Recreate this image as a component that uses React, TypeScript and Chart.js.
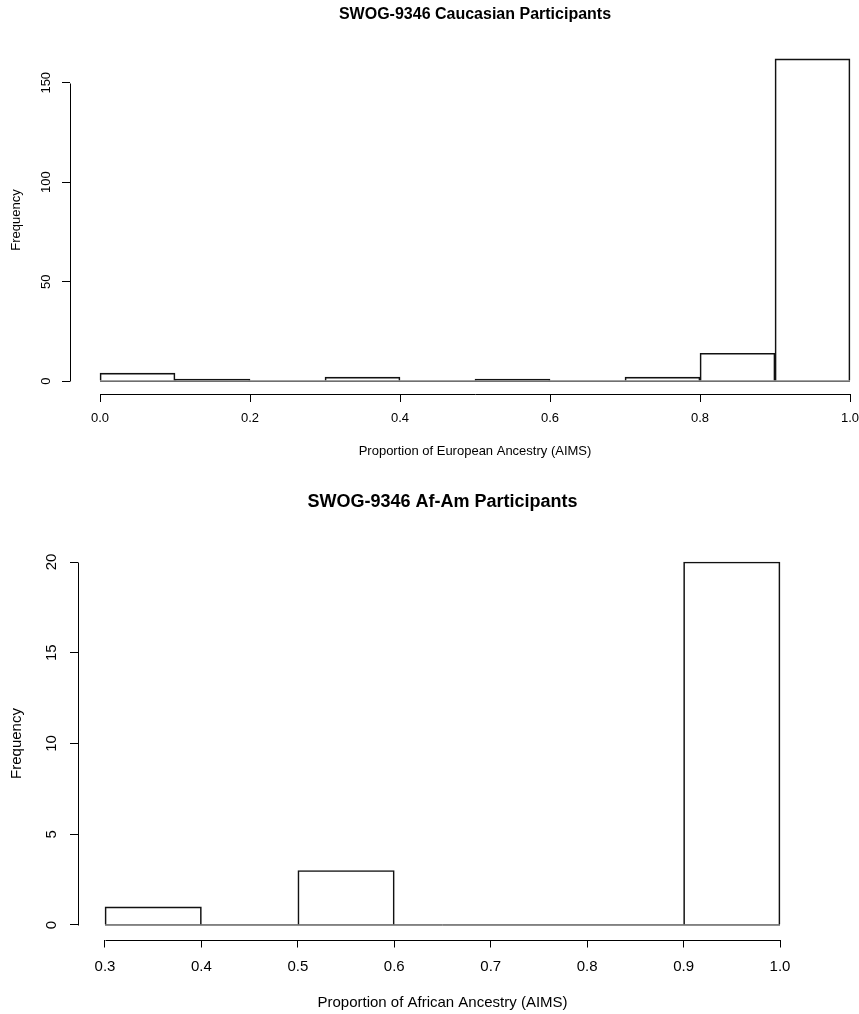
import React, { useEffect, useRef } from "react";
import { Chart, registerables } from "chart.js";

Chart.register(...registerables);

// ---------- data ----------
const yAxisLabel = "Frequency";

const topTitle = "SWOG-9346 Caucasian Participants";
const topXLabel = "Proportion of European Ancestry (AIMS)";
const topBinEdges = [0.0, 0.1, 0.2, 0.3, 0.4, 0.5, 0.6, 0.7, 0.8, 0.9, 1.0];
const topCounts = [4, 1, 0, 2, 0, 1, 0, 2, 14, 162];
const topXTicks = [0.0, 0.2, 0.4, 0.6, 0.8, 1.0];
const topXTickLabels = ["0.0", "0.2", "0.4", "0.6", "0.8", "1.0"];
const topYTicks = [0, 50, 100, 150];
const topYTickLabels = ["0", "50", "100", "150"];

const bottomTitle = "SWOG-9346 Af-Am Participants";
const bottomXLabel = "Proportion of African Ancestry (AIMS)";
const bottomBinEdges = [0.3, 0.4, 0.5, 0.6, 0.7, 0.8, 0.9, 1.0];
const bottomCounts = [1, 0, 3, 0, 0, 0, 20];
const bottomXTicks = [0.3, 0.4, 0.5, 0.6, 0.7, 0.8, 0.9, 1.0];
const bottomXTickLabels = ["0.3", "0.4", "0.5", "0.6", "0.7", "0.8", "0.9", "1.0"];
const bottomYTicks = [0, 5, 10, 15, 20];
const bottomYTickLabels = ["0", "5", "10", "15", "20"];

const FONT = "'Liberation Sans', Arial, Helvetica, sans-serif";
const INK = "#000000";

type Panel = {
  title: string;
  xLabel: string;
  edges: number[];
  counts: number[];
  xTicks: number[];
  xTickLabels: string[];
  yTicks: number[];
  yTickLabels: string[];
  // layout (not data)
  width: number;
  height: number;
  top: number;
  area: { left: number; top: number; right: number; bottom: number };
  xMin: number;
  xMax: number;
  yMin: number;
  yMax: number;
  titleCenter: number;
  titleY: number;
  titleSize: number;
  textSize: number;
  xTickLabelY: number;
  yTickLabelX: number;
  yTitleX: number;
  xTitleY: number;
  tickLen: number;
};

const panels: Panel[] = [
  {
    title: topTitle,
    xLabel: topXLabel,
    edges: topBinEdges,
    counts: topCounts,
    xTicks: topXTicks,
    xTickLabels: topXTickLabels,
    yTicks: topYTicks,
    yTickLabels: topYTickLabels,
    width: 859,
    height: 480,
    top: 0,
    area: { left: 70, top: 46, right: 859, bottom: 394 },
    xMin: -0.04,
    xMax: 1.012,
    yMin: -6.48,
    yMax: 168.48,
    titleCenter: 0.5,
    titleY: 15,
    titleSize: 16,
    textSize: 13,
    xTickLabelY: 418.5,
    yTickLabelX: 46,
    yTitleX: 16,
    xTitleY: 451,
    tickLen: 8,
  },
  {
    title: bottomTitle,
    xLabel: bottomXLabel,
    edges: bottomBinEdges,
    counts: bottomCounts,
    xTicks: bottomXTicks,
    xTickLabels: bottomXTickLabels,
    yTicks: bottomYTicks,
    yTickLabels: bottomYTickLabels,
    width: 859,
    height: 534,
    top: 480,
    area: { left: 78, top: 67.5, right: 807, bottom: 459.5 },
    xMin: 0.272,
    xMax: 1.028,
    yMin: -0.8,
    yMax: 20.8,
    titleCenter: 0.65,
    titleY: 22,
    titleSize: 18,
    textSize: 15,
    xTickLabelY: 487,
    yTickLabelX: 52,
    yTitleX: 17,
    xTitleY: 523,
    tickLen: 8,
  },
];

const rStylePlugin = {
  id: "rStyle",
  afterDraw(chart: any, _args: any, opts: any) {
    const p: Panel = opts.panel;
    if (!p) return;
    const ctx = chart.ctx as CanvasRenderingContext2D;
    const xs = chart.scales.x;
    const ys = chart.scales.y;
    const al = (v: number) => Math.round(v) + 0.5;
    ctx.save();
    ctx.strokeStyle = INK;
    ctx.lineWidth = 1;

    // x axis line (first tick to last tick)
    const xAxisY = al(chart.chartArea.bottom);
    ctx.beginPath();
    ctx.moveTo(al(xs.getPixelForValue(p.xTicks[0])), xAxisY);
    ctx.lineTo(al(xs.getPixelForValue(p.xTicks[p.xTicks.length - 1])), xAxisY);
    ctx.stroke();
    // y axis line
    const yAxisX = al(chart.chartArea.left);
    ctx.beginPath();
    ctx.moveTo(yAxisX, al(ys.getPixelForValue(p.yTicks[0])));
    ctx.lineTo(yAxisX, al(ys.getPixelForValue(p.yTicks[p.yTicks.length - 1])));
    ctx.stroke();

    ctx.fillStyle = INK;
    // x tick labels
    ctx.font = `${p.textSize}px ${FONT}`;
    ctx.textAlign = "center";
    ctx.textBaseline = "middle";
    p.xTicks.forEach((v, i) => {
      ctx.fillText(p.xTickLabels[i], xs.getPixelForValue(v), p.xTickLabelY);
    });
    // y tick labels (rotated)
    p.yTicks.forEach((v, i) => {
      ctx.save();
      ctx.translate(p.yTickLabelX, ys.getPixelForValue(v));
      ctx.rotate(-Math.PI / 2);
      ctx.fillText(p.yTickLabels[i], 0, 0);
      ctx.restore();
    });
    // axis titles
    const midX = xs.getPixelForValue(p.titleCenter);
    ctx.fillText(p.xLabel, midX, p.xTitleY);
    ctx.save();
    ctx.translate(p.yTitleX, (chart.chartArea.top + chart.chartArea.bottom) / 2);
    ctx.rotate(-Math.PI / 2);
    ctx.fillText(yAxisLabel, 0, 0);
    ctx.restore();
    // main title
    ctx.font = `bold ${p.titleSize}px ${FONT}`;
    ctx.fillText(p.title, midX, p.titleY);
    ctx.restore();
  },
};

function makeConfig(p: Panel): any {
  const bars = p.counts.map((c, i) => ({ x: (p.edges[i] + p.edges[i + 1]) / 2, y: c }));
  const baseline = [
    { x: p.edges[0], y: 0 },
    { x: p.edges[p.edges.length - 1], y: 0 },
  ];
  return {
    type: "bar",
    data: {
      datasets: [
        {
          type: "bar",
          data: bars,
          backgroundColor: "rgba(255,255,255,0)",
          borderColor: "#111111",
          borderWidth: 1,
          borderSkipped: "bottom",
          barPercentage: 1,
          categoryPercentage: 1,
          order: 2,
        },
        {
          type: "line",
          data: baseline,
          borderColor: "#111111",
          borderWidth: 1,
          pointRadius: 0,
          fill: false,
          order: 1,
        },
      ],
    },
    options: {
      animation: false,
      responsive: false,
      maintainAspectRatio: false,
      layout: {
        padding: {
          left: 0,
          top: p.area.top,
          right: p.width - p.area.right,
          bottom: 0,
        },
      },
      plugins: {
        legend: { display: false },
        title: { display: false },
        tooltip: { enabled: false },
        rStyle: { panel: p },
      },
      scales: {
        x: {
          type: "linear",
          min: p.xMin,
          max: p.xMax,
          offset: false,
          grid: {
            offset: false,
            display: true,
            drawOnChartArea: false,
            drawTicks: true,
            tickLength: p.tickLen,
            color: INK,
            lineWidth: 1,
          },
          border: { display: false },
          ticks: { display: false },
          afterBuildTicks: (s: any) => {
            s.ticks = p.xTicks.map((v) => ({ value: v }));
          },
          afterFit: (s: any) => {
            s.height = p.height - p.area.bottom;
          },
        },
        y: {
          type: "linear",
          min: p.yMin,
          max: p.yMax,
          grid: {
            display: true,
            drawOnChartArea: false,
            drawTicks: true,
            tickLength: p.tickLen,
            color: INK,
            lineWidth: 1,
          },
          border: { display: false },
          ticks: { display: false },
          afterBuildTicks: (s: any) => {
            s.ticks = p.yTicks.map((v) => ({ value: v }));
          },
          afterFit: (s: any) => {
            s.width = p.area.left;
          },
        },
      },
    },
    plugins: [rStylePlugin],
  };
}

function HistPanel({ panel }: { panel: Panel }) {
  const ref = useRef<HTMLCanvasElement | null>(null);
  useEffect(() => {
    if (!ref.current) return;
    const chart = new Chart(ref.current, makeConfig(panel));
    return () => chart.destroy();
  }, [panel]);
  return (
    <canvas
      ref={ref}
      width={panel.width}
      height={panel.height}
      style={{
        position: "absolute",
        left: 0,
        top: panel.top,
        width: panel.width,
        height: panel.height,
        display: "block",
      }}
    />
  );
}

export default function App() {
  return (
    <div
      style={{
        position: "absolute",
        left: 0,
        top: 0,
        width: 859,
        height: 1014,
        background: "#ffffff",
        overflow: "hidden",
      }}
    >
      {panels.map((p, i) => (
        <HistPanel key={i} panel={p} />
      ))}
    </div>
  );
}
